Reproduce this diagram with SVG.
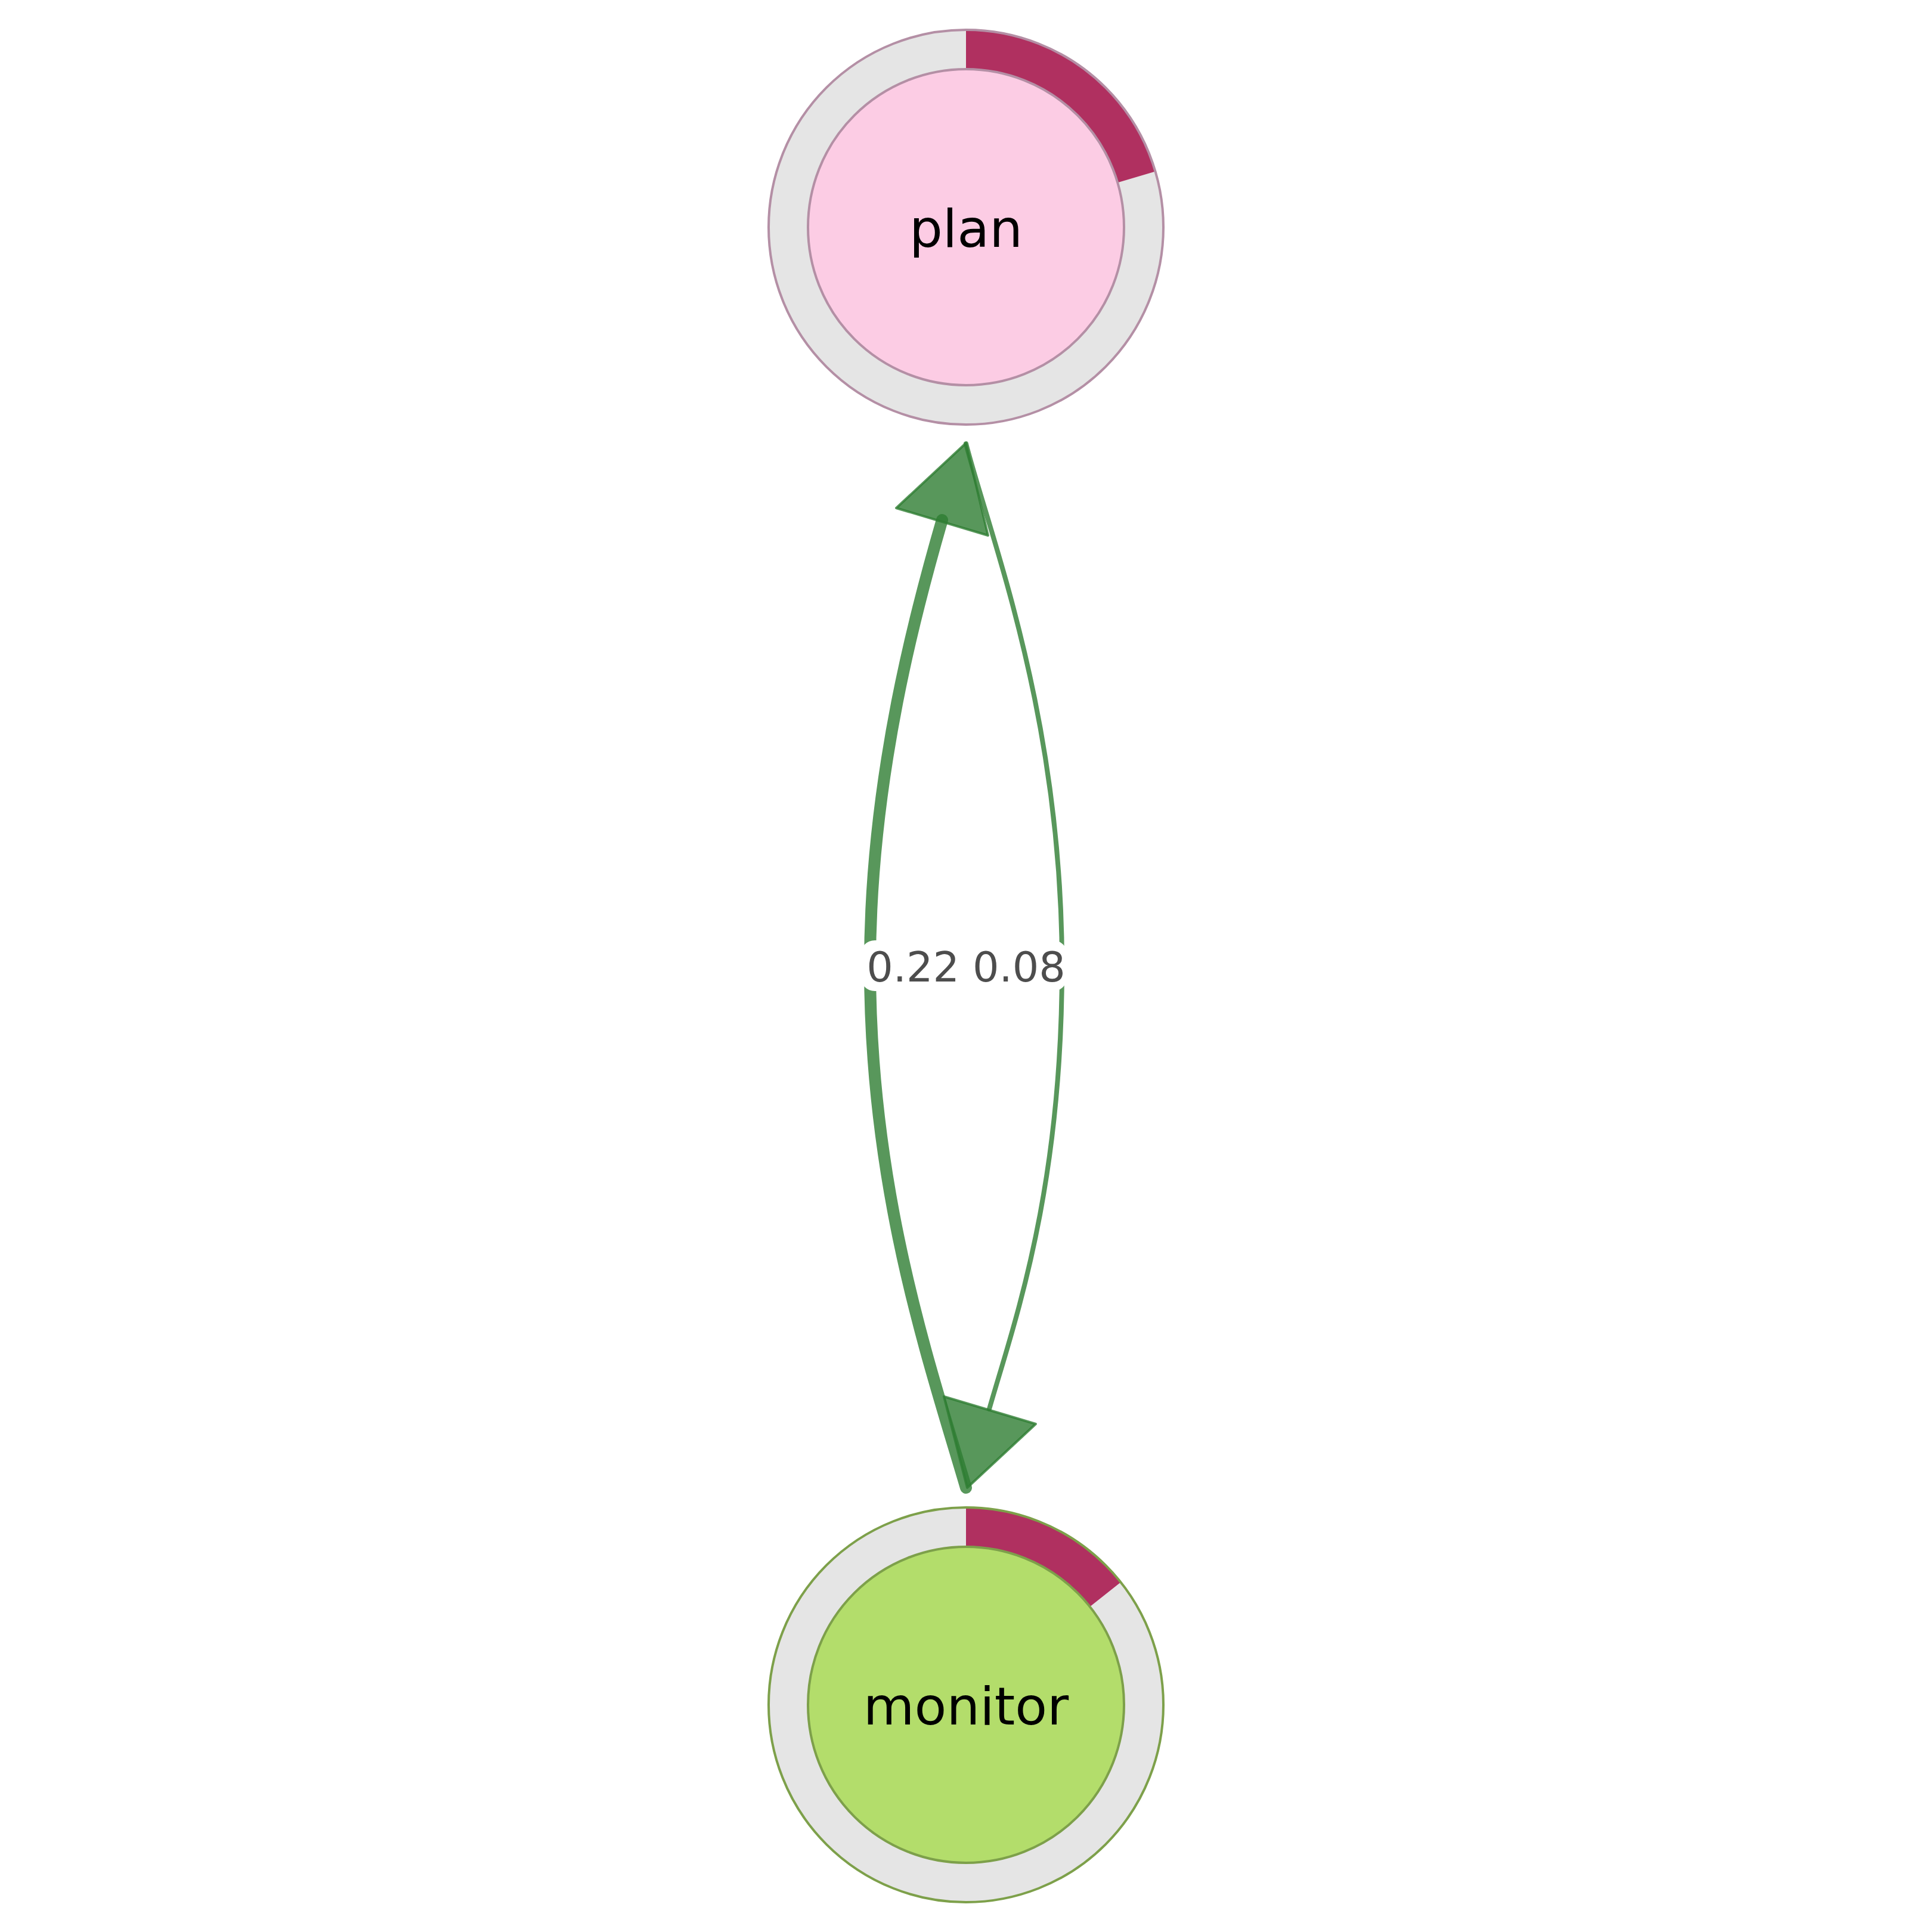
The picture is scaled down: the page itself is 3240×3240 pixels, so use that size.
<svg xmlns="http://www.w3.org/2000/svg" width="3240" height="3240" viewBox="0 0 3240 3240">
<style>
.ring{fill:none;stroke:#e5e5e5;stroke-width:66}
.arc{fill:#b03060}
.lbl{font-family:"DejaVu Sans",sans-serif;font-size:88px;fill:#000;text-anchor:middle}
.edge{fill:none;stroke:#2e7d32;stroke-opacity:0.8;stroke-linecap:round}
.head{fill:#2e7d32;fill-opacity:0.8;stroke:#2e7d32;stroke-opacity:0.8;stroke-width:4;stroke-linejoin:round}
.elbl{font-family:"DejaVu Sans",sans-serif;font-size:70px;fill:#4d4d4d}
</style>
<rect width="3240" height="3240" fill="#fff"/>
<g id="connectors">
<g id="edge-monitor-plan">
<path class="edge" stroke-width="20" d="M1620,2495 C1560,2290 1459,2000 1459,1620 C1459,1300 1540,1010 1580,872"/>
<polygon class="head" points="1620,743 1503,852 1657,898"/>
</g>
<g id="edge-plan-monitor">
<path class="edge" stroke-width="8" d="M1620,744 C1660,900 1781,1200 1781,1620 C1781,2000 1700,2220 1659,2363"/>
<polygon class="head" points="1622,2495 1583,2342 1737,2388"/>
</g>
<rect x="1443" y="1577" width="347" height="85" rx="24" fill="#fff"/>
<text class="elbl" x="1609" y="1646" text-anchor="end">0.22</text>
<text class="elbl" x="1631" y="1646" text-anchor="start">0.08</text>
</g>
<g id="node-plan">
<circle class="ring" cx="1620" cy="381" r="298"/>
<path class="arc" d="M1620,50 A331,331 0 0 1 1937.5,287.6 L1874.2,306.2 A265,265 0 0 0 1620,116 Z"/>
<circle cx="1620" cy="381" r="331" fill="none" stroke="#b48fa5" stroke-width="4"/>
<circle cx="1620" cy="381" r="265" fill="#fccce4" stroke="#b48fa5" stroke-width="4"/>
<text class="lbl" x="1620" y="414">plan</text>
</g>
<g id="node-monitor">
<circle class="ring" cx="1620" cy="2859" r="298"/>
<path class="arc" d="M1620,2528 A331,331 0 0 1 1879.4,2653.4 L1827.7,2694.4 A265,265 0 0 0 1620,2594 Z"/>
<circle cx="1620" cy="2859" r="331" fill="none" stroke="#7da04a" stroke-width="4"/>
<circle cx="1620" cy="2859" r="265" fill="#b3dd6b" stroke="#7da04a" stroke-width="4"/>
<text class="lbl" x="1620" y="2892">monitor</text>
</g>
</svg>
